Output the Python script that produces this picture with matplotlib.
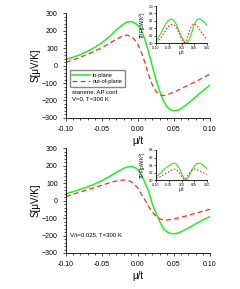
import numpy as np
import matplotlib
matplotlib.use('Agg')
import matplotlib.pyplot as plt
from matplotlib.ticker import MultipleLocator

plt.rcParams['font.family'] = ['Liberation Sans', 'DejaVu Sans']

# 主图数据 上图 V=0
mu_top = [-0.10, -0.09, -0.08, -0.07, -0.06, -0.05, -0.04, -0.03, -0.02, -0.015, -0.01, -0.005,
          0.0, 0.005, 0.01, 0.015, 0.02, 0.025, 0.03, 0.035, 0.04, 0.045, 0.05, 0.055, 0.06,
          0.07, 0.08, 0.09, 0.10]
s_in_top = [36, 48, 63, 82, 105, 132, 165, 205, 238, 250, 253, 246,
            232, 200, 145, 75, -5, -80, -145, -200, -235, -252, -260, -256, -246,
            -215, -180, -145, -112]
s_out_top = [18, 33, 48, 65, 83, 103, 127, 152, 172, 175, 168, 150,
             120, 72, 12, -55, -112, -148, -166, -172, -168, -160, -152, -142, -132,
             -112, -92, -70, -49]

# 下图 V/t=0.025
mu_bot = mu_top
s_in_bot = [40, 52, 65, 80, 96, 115, 138, 163, 185, 193, 196, 192,
            178, 148, 100, 50, -20, -72, -118, -158, -178, -188, -190, -186, -178,
            -157, -133, -111, -91]
s_out_bot = [23, 37, 50, 63, 76, 89, 102, 113, 119, 118, 110, 95,
             70, 35, 2, -35, -66, -88, -104, -111, -111, -108, -105, -100, -95,
             -84, -72, -60, -49]

# 插图 TPF
mu_in = [-0.10, -0.09, -0.08, -0.07, -0.06, -0.05, -0.04, -0.03, -0.02, -0.01,
         0.0, 0.01, 0.02, 0.03, 0.04, 0.05, 0.06, 0.07, 0.08, 0.09, 0.10]
tpf_in_top = [0.05, 0.15, 0.28, 0.42, 0.54, 0.62, 0.65, 0.62, 0.50, 0.33,
              0.17, 0.05, 0.0, 0.08, 0.28, 0.50, 0.63, 0.66, 0.62, 0.55, 0.48]
tpf_out_top = [0.02, 0.07, 0.15, 0.26, 0.37, 0.46, 0.50, 0.50, 0.42, 0.28,
               0.12, 0.01, 0.08, 0.30, 0.48, 0.52, 0.48, 0.38, 0.27, 0.17, 0.10]
tpf_in_bot = [0.09, 0.14, 0.20, 0.27, 0.33, 0.38, 0.42, 0.45, 0.43, 0.33,
              0.18, 0.05, 0.0, 0.10, 0.25, 0.37, 0.44, 0.45, 0.42, 0.36, 0.30]
tpf_out_bot = [0.05, 0.07, 0.10, 0.14, 0.18, 0.22, 0.26, 0.29, 0.28, 0.20,
               0.10, 0.01, 0.06, 0.18, 0.26, 0.29, 0.28, 0.25, 0.21, 0.18, 0.15]

GREEN = '#22ee22'
RED = '#ff2a2a'


def style_axes(ax, size):
    ax.spines['top'].set_visible(False)
    ax.spines['right'].set_visible(False)
    ax.spines['left'].set_linewidth(0.6)
    ax.spines['bottom'].set_linewidth(0.6)
    ax.tick_params(which='both', direction='out', labelsize=size, width=0.5)
    ax.tick_params(which='major', length=2.5)
    ax.tick_params(which='minor', length=1.2)


def draw_main(ax, mu, s_in, s_out):
    ax.plot(mu, s_in, color=GREEN, lw=1.1, label='in-plane')
    ax.plot(mu, s_out, color=RED, lw=0.9, ls=(0, (4, 2.5)), label='out-of-plane')
    ax.set_xlim(-0.10, 0.10)
    ax.set_ylim(-300, 300)
    ax.xaxis.set_major_locator(MultipleLocator(0.05))
    ax.xaxis.set_minor_locator(MultipleLocator(0.01))
    ax.yaxis.set_major_locator(MultipleLocator(100))
    ax.yaxis.set_minor_locator(MultipleLocator(20))
    ax.xaxis.set_major_formatter(plt.FuncFormatter(lambda v, p: '{:.2f}'.format(v)))
    style_axes(ax, 5)
    ax.set_ylabel('S[μV/K]', fontsize=7, labelpad=1)
    ax.set_xlabel('μ/t', fontsize=7, labelpad=2)


def draw_inset(ax, mu, t_in, t_out, ymax, step):
    ax.plot(mu, t_in, color=GREEN, lw=0.8)
    ax.plot(mu, t_out, color=RED, lw=0.8, ls=(0, (1.5, 1.5)))
    ax.set_xlim(-0.10, 0.10)
    ax.set_ylim(0, ymax)
    ax.xaxis.set_major_locator(MultipleLocator(0.05))
    ax.yaxis.set_major_locator(MultipleLocator(step))
    ax.xaxis.set_major_formatter(plt.FuncFormatter(lambda v, p: '{:.2f}'.format(v)))
    ax.yaxis.set_major_formatter(plt.FuncFormatter(lambda v, p: '{:.1f}'.format(v)))
    ax.patch.set_alpha(0)
    style_axes(ax, 2.3)
    ax.tick_params(which='major', length=1.2, pad=0.8)
    ax.set_xlabel('μ/t', fontsize=3.5, labelpad=0)
    ax.set_ylabel('TPF[pW/K$^2$]', fontsize=3.5, labelpad=0.5)


fig = plt.figure(figsize=(2.4, 2.89), dpi=100)

ax1 = fig.add_axes([0.275, 0.592, 0.6, 0.362])
draw_main(ax1, mu_top, s_in_top, s_out_top)
ax1.legend(loc='upper left', bbox_to_anchor=(0.01, 0.48), fontsize=4, frameon=True,
           fancybox=False, edgecolor='#888888', framealpha=1, handlelength=3.2,
           borderpad=0.4, labelspacing=0.3, handletextpad=0.5)
ax1.text(0.04, 0.22, 'stanene, AP conf.\nV=0, T=300 K', transform=ax1.transAxes,
         fontsize=4.3, va='center', linespacing=1.5)

ax2 = fig.add_axes([0.275, 0.1246, 0.6, 0.362])
draw_main(ax2, mu_bot, s_in_bot, s_out_bot)
ax2.text(0.03, 0.17, 'V/t=0.025, T=300 K', transform=ax2.transAxes,
         fontsize=4.3, va='center')

ins1 = fig.add_axes([0.65, 0.851, 0.2125, 0.128])
draw_inset(ins1, mu_in, tpf_in_top, tpf_out_top, 1.0, 0.2)

ins2 = fig.add_axes([0.65, 0.377, 0.2125, 0.104])
draw_inset(ins2, mu_in, tpf_in_bot, tpf_out_bot, 0.8, 0.2)

fig.savefig('out.png', dpi=100)
